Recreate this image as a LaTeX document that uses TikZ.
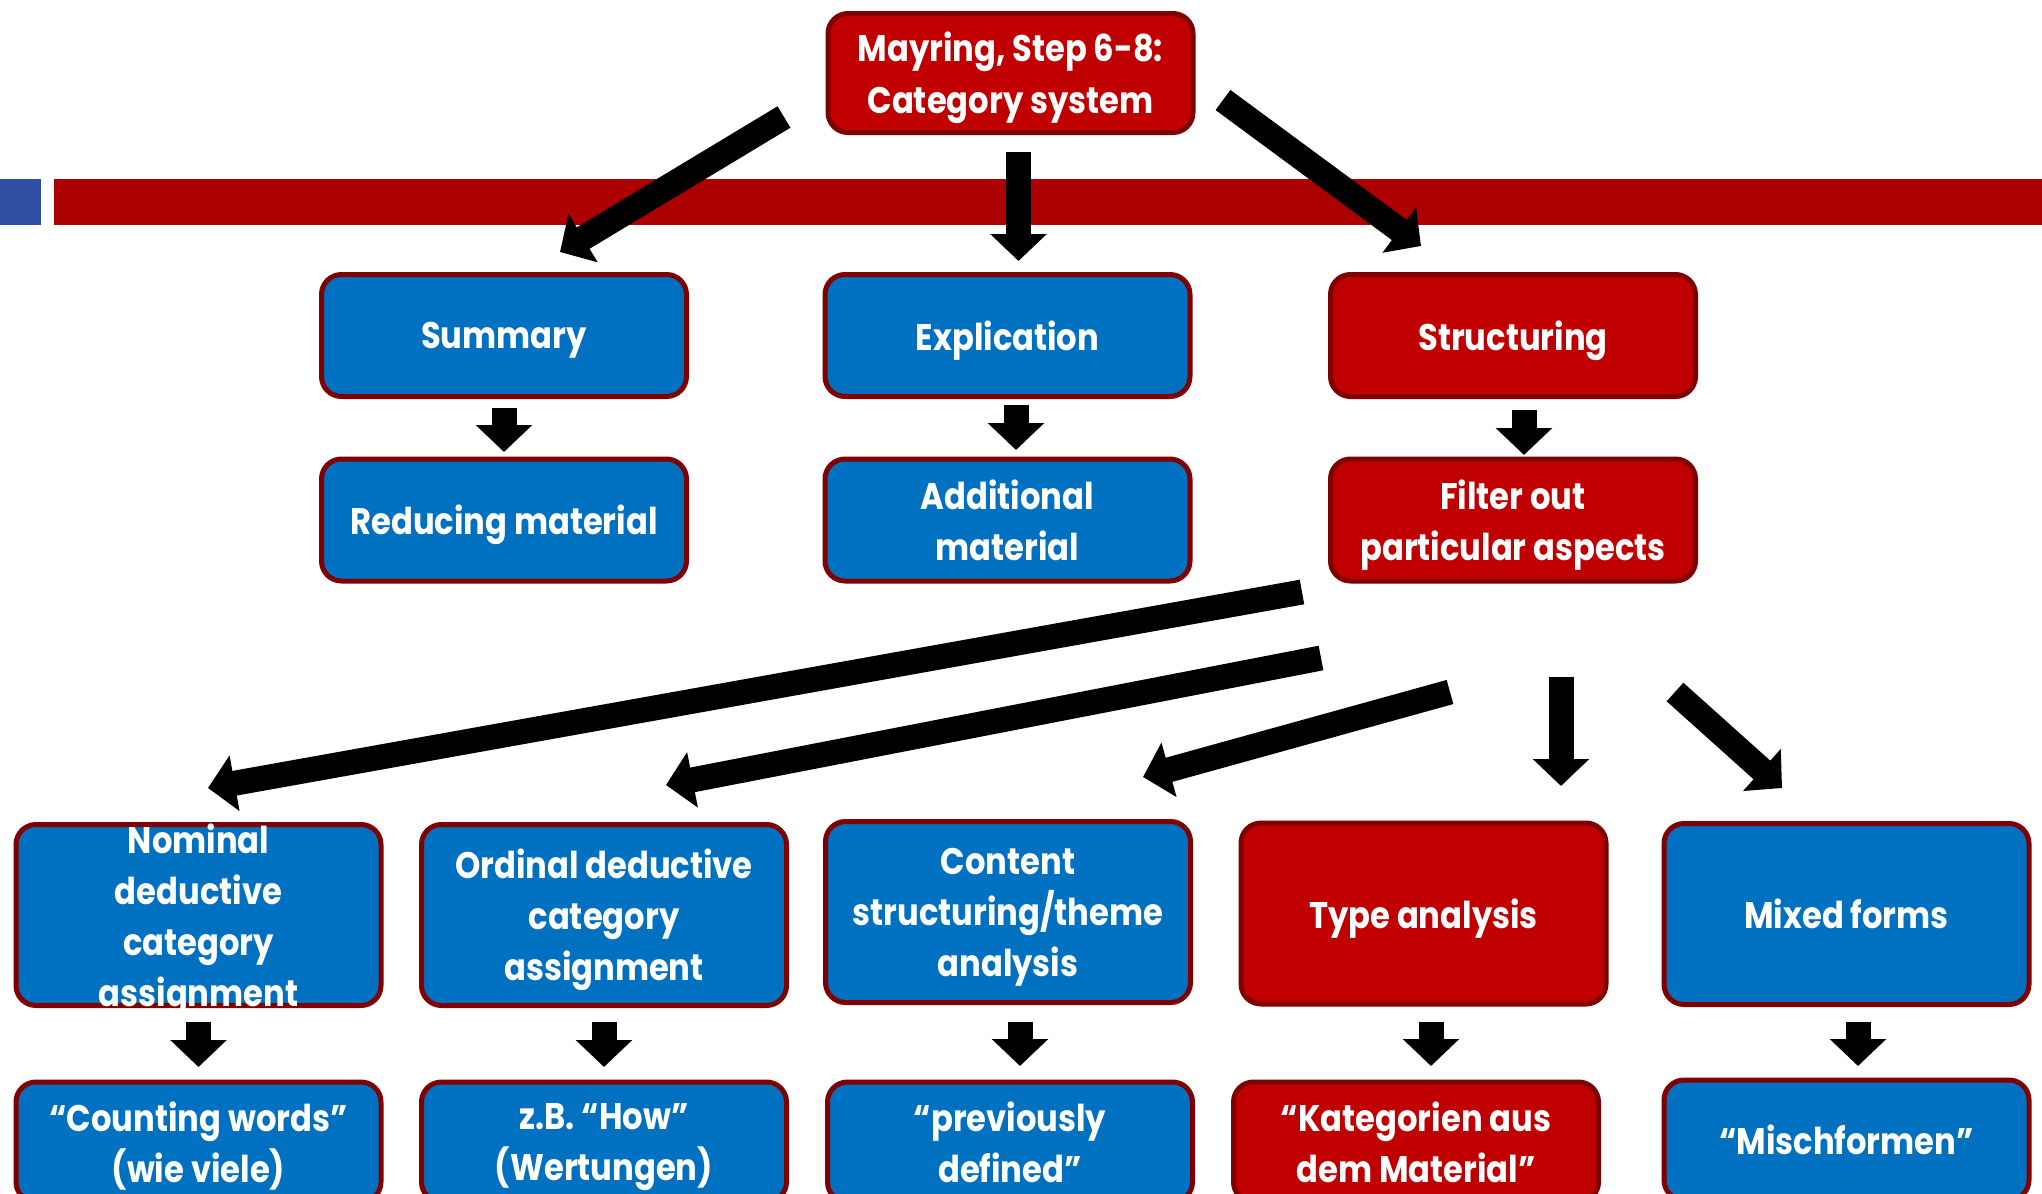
\documentclass[tikz,border=0pt]{standalone}
\usepackage{fontspec}
\setmainfont{Poppins}[FakeStretch=0.87]
\usetikzlibrary{arrows.meta}
\definecolor{boxblue}{HTML}{0070C0}
\definecolor{boxred}{HTML}{C00000}
\definecolor{boxline}{HTML}{800000}
\definecolor{bandred}{HTML}{AD0000}
\definecolor{bandblue}{HTML}{2E4FA3}
\tikzset{
  box/.style={draw=boxline, line width=2.5pt, rounded corners=10pt,
    minimum width=182.5pt, inner sep=0pt, text=white, align=center,
    text depth=0pt, font=\bfseries\fontsize{18.5}{25.5}\selectfont},
  bluebox/.style={box, fill=boxblue},
  redbox/.style={box, fill=boxred},
  lowbox/.style={minimum height=61pt},
  tallbox/.style={minimum height=90.5pt},
  boxtext/.style={text=white, align=center, inner sep=0pt, text depth=0pt,
    font=\bfseries\fontsize{18.5}{25.5}\selectfont},
  bigarrow/.style={line width=12.5pt, -{Triangle[length=13.5pt,width=27.5pt]}},
}
\begin{document}
\begin{tikzpicture}[x=0.5pt,y=-0.5pt]
\useasboundingbox (0,0) rectangle (2042,1194);
\clip (0,0) rectangle (2042,1194);
% header band
\fill[bandblue] (0,179) rectangle (41,225);
\fill[bandred] (54,179) rectangle (2042,225);

% arrow coordinates
\coordinate (a1s) at (784,117);  \coordinate (a1e) at (560,252);
\coordinate (a2s) at (1018.5,152); \coordinate (a2e) at (1018.5,261);
\coordinate (a3s) at (1223,100); \coordinate (a3e) at (1421,246);
\coordinate (b1s) at (504,408);  \coordinate (b1e) at (504,452);
\coordinate (b2s) at (1016,405); \coordinate (b2e) at (1016,450);
\coordinate (b3s) at (1524,410); \coordinate (b3e) at (1524,455);
\coordinate (c1s) at (1302,592); \coordinate (c1e) at (208,788);
\coordinate (c2s) at (1321,658); \coordinate (c2e) at (666,785);
\coordinate (c3s) at (1450,692); \coordinate (c3e) at (1143,777);
\coordinate (c4s) at (1561,677); \coordinate (c4e) at (1561,786);
\coordinate (c5s) at (1675,692); \coordinate (c5e) at (1782,788);
\coordinate (d1s) at (198.5,1022); \coordinate (d1e) at (198.5,1067);
\coordinate (d2s) at (604,1022);   \coordinate (d2e) at (604,1067);
\coordinate (d3s) at (1020,1022);  \coordinate (d3e) at (1020,1066);
\coordinate (d4s) at (1431,1022);  \coordinate (d4e) at (1431,1066);
\coordinate (d5s) at (1858,1022);  \coordinate (d5e) at (1858,1066);

\foreach \a in {a1,a2,a3,b1,b2,b3,c1,c2,c3,c4,c5,d1,d2,d3,d4,d5}
  \draw[bigarrow] (\a s) -- (\a e);

% boxes
\node[redbox, minimum height=59.5pt, font=\bfseries\fontsize{18.5}{26}\selectfont] (top) at (1010.5,73) {Mayring, Step 6-8:\\Category system};

\node[bluebox, lowbox] (sum) at (504,335.5) {Summary};
\node[bluebox, lowbox] (expl) at (1007.5,335.5) {Explication};
\node[redbox, lowbox] (struct) at (1513,335.5) {Structuring};

\node[bluebox, lowbox] (red) at (504,520) {Reducing material};
\node[bluebox, lowbox] (add) at (1007.5,520) {Additional\\material};
\node[redbox, lowbox] (filt) at (1513,520) {Filter out\\particular aspects};

\node[bluebox, tallbox] (nom) at (198.5,915) {};
\node[boxtext] (nomt) at (nom.center) {Nominal\\deductive\\category\\assignment};
\node[bluebox, tallbox] (ord) at (604,915) {Ordinal deductive\\category\\assignment};
\node[bluebox, tallbox] (cont) at (1008,912) {Content\\structuring/theme\\analysis};
\node[redbox, tallbox] (type) at (1423.5,913.5) {Type analysis};
\node[bluebox, tallbox] (mix) at (1846.5,914) {Mixed forms};

\node[bluebox, minimum height=60pt] (count) at (198.5,1142) {“Counting words”\\(wie viele)};
\node[bluebox, minimum height=60pt] (how) at (604,1142) {z.B. “How”\\(Wertungen)};
\node[bluebox, minimum height=60pt] (prev) at (1010,1142) {“previously\\defined”};
\node[redbox, minimum height=60pt] (kat) at (1416,1142) {“Kategorien aus\\dem Material”};
\node[bluebox, minimum height=60pt] (misch) at (1846.5,1140) {“Mischformen”};
\end{tikzpicture}
\end{document}
